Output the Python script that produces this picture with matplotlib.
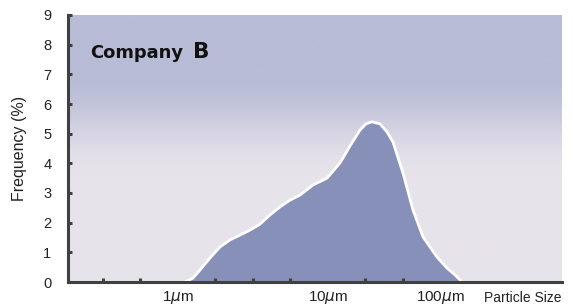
import numpy as np
import matplotlib
matplotlib.use("Agg")
import matplotlib.pyplot as plt

# Data (particle size in micrometres, frequency in %)
sizes_um = [1.113, 1.259, 1.401, 1.635, 1.905, 2.222, 2.590, 3.020, 3.521, 4.105,
            4.785, 5.580, 6.505, 7.942, 9.847, 12.02, 14.01, 16.34, 17.92, 19.64,
            22.22, 24.73, 27.12, 31.63, 36.86, 42.98, 53.28, 62.12, 70.24, 78.23]
frequency = [0.0, 0.13, 0.40, 0.81, 1.18, 1.42, 1.58, 1.75, 1.95, 2.26,
             2.53, 2.76, 2.93, 3.27, 3.50, 4.01, 4.58, 5.12, 5.33, 5.40,
             5.33, 5.06, 4.72, 3.67, 2.43, 1.52, 0.84, 0.47, 0.24, 0.0]

minor_tick_log = [-0.5, -0.25, 0.0, 0.25, 0.5, 0.75, 1.0, 1.25, 1.5, 1.75]
label_tick_log = [0.0, 1.0, 1.75]
label_texts = [r'1$\mu$m', r'10$\mu$m', r'100$\mu$m']
y_ticks = list(range(0, 10))

W, H = 573, 305
fig = plt.figure(figsize=(W / 100, H / 100), dpi=100)
L, R, T, B = 68, 562, 15, 282
ax = fig.add_axes([L / W, (H - B) / H, (R - L) / W, (B - T) / H])

ax.set_xscale('log')
ax.set_xlim(10 ** -0.733, 10 ** 2.56)
ax.set_ylim(0, 9)

# background gradient
top = np.array([0xb8, 0xbc, 0xd6]) / 255
bot = np.array([0xe7, 0xe3, 0xeb]) / 255
n = 300
t = np.linspace(0, 1, n)  # 0 = top, 1 = bottom
w = np.clip((t - 0.22) / (0.60 - 0.22), 0, 1)
w = w * w * (3 - 2 * w)
grad = top[None, :] * (1 - w[:, None]) + bot[None, :] * w[:, None]
img = grad[:, None, :]
ax.imshow(img, extent=[0, 1, 0, 1], transform=ax.transAxes, aspect='auto',
          zorder=0, interpolation='bilinear')

ax.fill_between(sizes_um, frequency, 0, color='#8690b9', zorder=1, lw=0)
ax.plot(sizes_um, frequency, color='white', lw=2.0, zorder=1.5,
        solid_joinstyle='round', solid_capstyle='round')

for s in ['top', 'right']:
    ax.spines[s].set_visible(False)
for s in ['left', 'bottom']:
    ax.spines[s].set_color('#404040')
    ax.spines[s].set_linewidth(2.2)
    ax.spines[s].set_zorder(5)

ax.set_yticks(y_ticks)
ax.set_yticklabels([str(v) for v in y_ticks], fontfamily='Liberation Sans', fontsize=10.5, color='#222222')
ax.tick_params(axis='y', direction='in', length=3, width=2.2, color='#404040', pad=12)

ax.set_xticks([10 ** v for v in label_tick_log])
ax.set_xticklabels(label_texts, fontfamily='Liberation Sans', fontsize=11, color='#222222')
ax.set_xticks([10 ** v for v in minor_tick_log], minor=True)
ax.xaxis.set_minor_formatter(matplotlib.ticker.NullFormatter())
ax.tick_params(axis='x', which='major', length=0, pad=5)
ax.tick_params(axis='x', which='minor', direction='in', length=3, width=2.2, color='#404040')

ax.set_ylabel('Frequency (%)', fontfamily='Liberation Sans', fontsize=11.5, color='#222222', labelpad=7)
ax.yaxis.set_label_coords(-(68 - 27) / (R - L), 0.5)

fig.text(90 / W, (H - 58) / H, 'Company', fontfamily='DejaVu Sans', fontweight='bold',
         fontsize=12.9, color='#111111', va='baseline', ha='left')
fig.text(193 / W, (H - 58) / H, 'B', fontfamily='DejaVu Sans', fontweight='bold',
         fontsize=15.5, color='#111111', va='baseline', ha='left')
fig.text(562 / W, (H - 298) / H, 'Particle Size', fontfamily='Liberation Sans',
         fontsize=10, color='#222222', va='center', ha='right')

fig.savefig('out.png', dpi=100)
